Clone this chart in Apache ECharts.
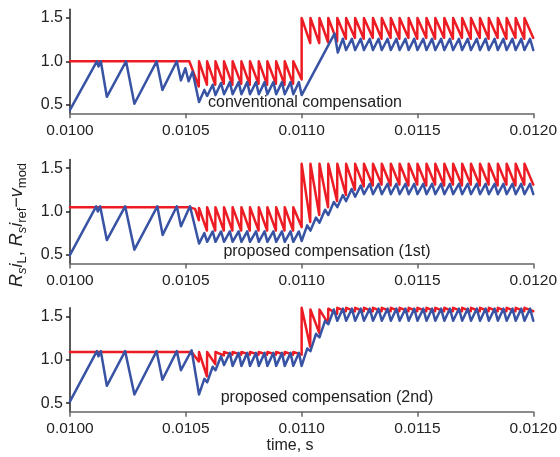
<!DOCTYPE html>
<html><head><meta charset="utf-8">
<script src="https://cdn.jsdelivr.net/npm/echarts@6/dist/echarts.min.js"></script>
<style>html,body{margin:0;padding:0;background:#fff}#c{width:560px;height:457px}</style>
</head><body><div id="c"></div>
<script>
// ---------- data (time in s, value) ----------
const xTicks = [0.0100, 0.0105, 0.0110, 0.0115, 0.0120];
const yTicks = [0.5, 1.0, 1.5];
const panelLabels = ['conventional compensation', 'proposed compensation (1st)', 'proposed compensation (2nd)'];
const xName = 'time, s';

const topRed = [
[0.010000,1.00],[0.010515,1.00],
[0.010556,0.71],[0.010557,1.00],[0.010591,0.73],[0.010592,1.00],[0.010627,0.73],[0.010628,1.00],
[0.010664,0.74],[0.010665,1.00],[0.010701,0.73],[0.010702,1.00],[0.010739,0.74],[0.010740,1.00],
[0.010776,0.73],[0.010777,1.00],[0.010814,0.74],[0.010815,1.00],[0.010851,0.73],[0.010852,1.00],
[0.010889,0.74],[0.010890,1.00],[0.010926,0.73],[0.010927,1.00],[0.010963,0.74],[0.010964,1.00],
[0.011000,0.79],[0.011000,1.50],
[0.011037,1.21],[0.011038,1.50],[0.011076,1.21],[0.011077,1.50],[0.011114,1.22],[0.011115,1.50],
[0.011153,1.23],[0.011154,1.50],[0.011191,1.26],[0.011192,1.50],[0.011230,1.27],[0.011231,1.50],
[0.011268,1.26],[0.011269,1.50],[0.011307,1.27],[0.011308,1.50],[0.011345,1.26],[0.011346,1.50],
[0.011384,1.27],[0.011385,1.50],[0.011422,1.26],[0.011423,1.50],[0.011461,1.27],[0.011462,1.50],
[0.011499,1.26],[0.011500,1.50],[0.011538,1.27],[0.011539,1.50],[0.011576,1.26],[0.011577,1.50],
[0.011615,1.27],[0.011616,1.50],[0.011653,1.26],[0.011654,1.50],[0.011692,1.27],[0.011693,1.50],
[0.011730,1.26],[0.011731,1.50],[0.011769,1.27],[0.011770,1.50],[0.011807,1.26],[0.011808,1.50],
[0.011846,1.27],[0.011847,1.50],[0.011884,1.26],[0.011885,1.50],[0.011923,1.27],[0.011924,1.50],
[0.011961,1.26],[0.011962,1.50],[0.012000,1.27]
];
const topBlue = [
[0.010000,0.44],[0.010116,1.00],[0.010123,0.94],[0.010133,1.00],[0.010159,0.59],[0.010242,1.00],
[0.010278,0.51],[0.010374,1.00],[0.010399,0.67],[0.010461,1.00],[0.010479,0.78],[0.010498,0.92],
[0.010512,0.77],[0.010529,0.88],[0.010557,0.53],
[0.010580,0.67],[0.010592,0.60],[0.010616,0.73],[0.010628,0.61],[0.010652,0.75],[0.010665,0.62],
[0.010690,0.76],[0.010702,0.62],[0.010728,0.76],[0.010740,0.62],[0.010765,0.76],[0.010777,0.62],
[0.010803,0.76],[0.010815,0.62],[0.010840,0.76],[0.010852,0.62],[0.010878,0.76],[0.010890,0.62],
[0.010915,0.76],[0.010927,0.62],[0.010952,0.76],[0.010964,0.62],[0.010988,0.76],[0.011000,0.61],
[0.011142,1.32],[0.011156,1.10],
[0.011178,1.26],[0.011192,1.13],[0.011217,1.26],[0.011231,1.13],[0.011255,1.26],[0.011269,1.13],
[0.011294,1.26],[0.011308,1.13],[0.011332,1.26],[0.011346,1.13],[0.011371,1.26],[0.011385,1.13],
[0.011409,1.26],[0.011423,1.13],[0.011448,1.26],[0.011462,1.13],[0.011486,1.26],[0.011500,1.13],
[0.011525,1.26],[0.011539,1.13],[0.011563,1.26],[0.011577,1.13],[0.011602,1.26],[0.011616,1.13],
[0.011640,1.26],[0.011654,1.13],[0.011679,1.26],[0.011693,1.13],[0.011717,1.26],[0.011731,1.13],
[0.011756,1.26],[0.011770,1.13],[0.011794,1.26],[0.011808,1.13],[0.011833,1.26],[0.011847,1.13],
[0.011871,1.26],[0.011885,1.13],[0.011910,1.26],[0.011924,1.13],[0.011948,1.26],[0.011962,1.13],
[0.011986,1.26],[0.012000,1.13]
];
const midRed = [
[0.010000,1.05],[0.010512,1.05],[0.010540,1.03],[0.010556,0.90],[0.010557,1.04],
[0.010591,0.78],[0.010592,1.05],[0.010627,0.78],[0.010628,1.05],[0.010664,0.78],[0.010665,1.05],
[0.010701,0.78],[0.010702,1.05],[0.010739,0.78],[0.010740,1.05],[0.010776,0.78],[0.010777,1.05],
[0.010814,0.78],[0.010815,1.05],[0.010851,0.78],[0.010852,1.05],[0.010889,0.78],[0.010890,1.05],
[0.010926,0.78],[0.010927,1.05],[0.010963,0.78],[0.010964,1.05],
[0.011000,0.82],[0.011000,1.55],
[0.011037,0.88],[0.011038,1.55],[0.011076,0.96],[0.011077,1.55],[0.011114,1.05],[0.011115,1.55],
[0.011153,1.12],[0.011154,1.55],[0.011191,1.19],[0.011192,1.55],[0.011230,1.25],[0.011231,1.55],
[0.011268,1.29],[0.011269,1.55],[0.011307,1.30],[0.011308,1.55],[0.011345,1.31],[0.011346,1.55],
[0.011384,1.30],[0.011385,1.55],[0.011422,1.31],[0.011423,1.55],[0.011461,1.30],[0.011462,1.55],
[0.011499,1.31],[0.011500,1.55],[0.011538,1.30],[0.011539,1.55],[0.011576,1.31],[0.011577,1.55],
[0.011615,1.30],[0.011616,1.55],[0.011653,1.31],[0.011654,1.55],[0.011692,1.30],[0.011693,1.55],
[0.011730,1.31],[0.011731,1.55],[0.011769,1.30],[0.011770,1.55],[0.011807,1.31],[0.011808,1.55],
[0.011846,1.30],[0.011847,1.55],[0.011884,1.31],[0.011885,1.55],[0.011923,1.30],[0.011924,1.55],
[0.011961,1.31],[0.011962,1.55],[0.012000,1.31]
];
const midBlue = [
[0.010000,0.50],[0.010113,1.06],[0.010120,1.00],[0.010130,1.06],[0.010159,0.67],[0.010238,1.06],
[0.010278,0.56],[0.010377,1.06],[0.010400,0.73],[0.010461,1.06],[0.010479,0.83],[0.010518,1.06],
[0.010557,0.63],
[0.010580,0.75],[0.010592,0.65],[0.010616,0.77],[0.010628,0.65],[0.010652,0.77],[0.010665,0.65],
[0.010690,0.77],[0.010702,0.65],[0.010728,0.77],[0.010740,0.65],[0.010765,0.77],[0.010777,0.65],
[0.010803,0.77],[0.010815,0.65],[0.010840,0.77],[0.010852,0.65],[0.010878,0.77],[0.010890,0.65],
[0.010915,0.77],[0.010927,0.65],[0.010952,0.77],[0.010964,0.65],[0.010988,0.77],[0.011000,0.66],
[0.011024,0.84],[0.011038,0.78],[0.011062,0.93],[0.011077,0.87],[0.011101,1.02],[0.011115,0.96],
[0.011139,1.11],[0.011154,1.05],[0.011178,1.19],[0.011192,1.12],[0.011216,1.26],[0.011231,1.17],
[0.011255,1.30],[0.011269,1.20],[0.011294,1.32],[0.011308,1.20],[0.011332,1.32],[0.011346,1.20],
[0.011371,1.32],[0.011385,1.20],[0.011409,1.32],[0.011423,1.20],[0.011448,1.32],[0.011462,1.20],
[0.011486,1.32],[0.011500,1.20],[0.011525,1.32],[0.011539,1.20],[0.011563,1.32],[0.011577,1.20],
[0.011602,1.32],[0.011616,1.20],[0.011640,1.32],[0.011654,1.20],[0.011679,1.32],[0.011693,1.20],
[0.011717,1.32],[0.011731,1.20],[0.011756,1.32],[0.011770,1.20],[0.011794,1.32],[0.011808,1.20],
[0.011833,1.32],[0.011847,1.20],[0.011871,1.32],[0.011885,1.20],[0.011910,1.32],[0.011924,1.20],
[0.011948,1.32],[0.011962,1.20],[0.011986,1.32],[0.012000,1.20]
];
const botRed = [
[0.010000,1.09],[0.010525,1.09],[0.010556,0.98],[0.010557,1.09],[0.010591,0.81],[0.010592,1.09],
[0.010627,0.95],[0.010628,1.09],[0.010664,1.05],[0.010665,1.09],[0.010701,1.06],[0.010702,1.09],
[0.010739,1.06],[0.010740,1.09],[0.010776,1.06],[0.010777,1.09],[0.010814,1.06],[0.010815,1.09],
[0.010851,1.06],[0.010852,1.09],[0.010889,1.06],[0.010890,1.09],[0.010926,1.06],[0.010927,1.09],
[0.010963,1.06],[0.010964,1.09],
[0.011000,1.06],[0.011000,1.60],
[0.011037,1.15],[0.011038,1.58],[0.011076,1.31],[0.011077,1.58],[0.011114,1.42],[0.011115,1.59],
[0.011153,1.53],[0.011154,1.60],[0.011191,1.56],[0.011192,1.60],[0.011230,1.56],[0.011231,1.60],
[0.011268,1.56],[0.011269,1.60],[0.011307,1.56],[0.011308,1.60],[0.011345,1.56],[0.011346,1.60],
[0.011384,1.56],[0.011385,1.60],[0.011422,1.56],[0.011423,1.60],[0.011461,1.56],[0.011462,1.60],
[0.011499,1.56],[0.011500,1.60],[0.011538,1.56],[0.011539,1.60],[0.011576,1.56],[0.011577,1.60],
[0.011615,1.56],[0.011616,1.60],[0.011653,1.56],[0.011654,1.60],[0.011692,1.56],[0.011693,1.60],
[0.011730,1.56],[0.011731,1.60],[0.011769,1.56],[0.011770,1.60],[0.011807,1.56],[0.011808,1.60],
[0.011846,1.56],[0.011847,1.60],[0.011884,1.56],[0.011885,1.60],[0.011923,1.56],[0.011924,1.60],
[0.011961,1.56],[0.011962,1.60],[0.012000,1.56]
];
const botBlue = [
[0.010000,0.52],[0.010116,1.10],[0.010123,1.04],[0.010133,1.10],[0.010159,0.70],[0.010238,1.10],
[0.010278,0.60],[0.010374,1.10],[0.010399,0.77],[0.010461,1.10],[0.010479,0.88],[0.010525,1.11],
[0.010557,0.60],[0.010580,0.78],[0.010592,0.74],[0.010616,0.92],[0.010628,0.88],[0.010652,1.04],
[0.010665,0.94],[0.010690,1.08],[0.010702,0.93],[0.010728,1.08],[0.010740,0.93],[0.010765,1.08],
[0.010777,0.93],[0.010803,1.08],[0.010815,0.93],[0.010840,1.08],[0.010852,0.93],[0.010878,1.08],
[0.010890,0.93],[0.010915,1.08],[0.010927,0.93],[0.010952,1.08],[0.010964,0.93],[0.010988,1.08],
[0.011000,0.93],
[0.011024,1.13],[0.011038,1.10],[0.011062,1.30],[0.011077,1.26],[0.011101,1.45],[0.011115,1.41],
[0.011139,1.58],[0.011154,1.45],[0.011178,1.59],[0.011192,1.45],[0.011217,1.59],[0.011231,1.45],
[0.011255,1.59],[0.011269,1.45],[0.011294,1.59],[0.011308,1.45],[0.011332,1.59],[0.011346,1.45],
[0.011371,1.59],[0.011385,1.45],[0.011409,1.59],[0.011423,1.45],[0.011448,1.59],[0.011462,1.45],
[0.011486,1.59],[0.011500,1.45],[0.011525,1.59],[0.011539,1.45],[0.011563,1.59],[0.011577,1.45],
[0.011602,1.59],[0.011616,1.45],[0.011640,1.59],[0.011654,1.45],[0.011679,1.59],[0.011693,1.45],
[0.011717,1.59],[0.011731,1.45],[0.011756,1.59],[0.011770,1.45],[0.011794,1.59],[0.011808,1.45],
[0.011833,1.59],[0.011847,1.45],[0.011871,1.59],[0.011885,1.45],[0.011910,1.59],[0.011924,1.45],
[0.011948,1.59],[0.011962,1.45],[0.011986,1.59],[0.012000,1.45]
];

// ---------- chart ----------
const FONT = 'Liberation Sans, Arial, Helvetica, sans-serif';
const RED = '#ed1c24', BLUE = '#3853a4';
const gridTops = [9.3, 159.5, 307.8];
const chart = echarts.init(document.getElementById('c'), null, {renderer: 'canvas'});

const grids = gridTops.map(t => ({left: 70, top: t, width: 464.6, height: 104}));
const xAxes = gridTops.map((t, i) => ({
  type: 'value', gridIndex: i, min: 0.0100, max: 0.0120,
  axisLine: {show: true, lineStyle: {color: '#666', width: 1.5}},
  axisTick: {show: true, length: 5, customValues: xTicks, lineStyle: {color: '#666', width: 1.5}},
  axisLabel: {customValues: xTicks, formatter: v => v.toFixed(4), fontSize: 15.5, fontFamily: FONT, color: '#222', margin: 9,
              showMinLabel: true, showMaxLabel: true, hideOverlap: false},
  splitLine: {show: false}
}));
const yAxes = gridTops.map((t, i) => ({
  type: 'value', gridIndex: i, min: 0.4, max: 1.6,
  axisLine: {show: true, lineStyle: {color: '#222', width: 1.5}},
  axisTick: {show: true, length: 4, customValues: yTicks, lineStyle: {color: '#222', width: 1.5}},
  axisLabel: {customValues: yTicks, formatter: v => v.toFixed(1), fontSize: 16, fontFamily: FONT, color: '#222', margin: 7},
  splitLine: {show: false}
}));
const mk = (data, color, i) => ({
  type: 'line', data, xAxisIndex: i, yAxisIndex: i, showSymbol: false, clip: false,
  lineStyle: {color, width: 2.5, join: 'round', cap: 'round'}, z: color === BLUE ? 3 : 2, animation: false
});
const series = [
  mk(topRed, RED, 0), mk(topBlue, BLUE, 0),
  mk(midRed, RED, 1), mk(midBlue, BLUE, 1),
  mk(botRed, RED, 2), mk(botBlue, BLUE, 2)
];
const labelPos = [[305, 103], [327, 252], [327, 398]];
const graphics = panelLabels.map((txt, i) => ({
  type: 'text', x: labelPos[i][0], y: labelPos[i][1], z: 10,
  style: {text: txt, font: '16px ' + FONT, fill: '#222', align: 'center', verticalAlign: 'middle'}
}));
graphics.push({
  type: 'text', x: 290, y: 446, z: 10,
  style: {text: xName, font: '16px ' + FONT, fill: '#222', align: 'center', verticalAlign: 'middle'}
});
const M = {fontSize: 18, fontFamily: FONT, lineHeight: 23, verticalAlign: 'middle', fill: '#222', color: '#222'};
graphics.push({
  type: 'text', x: 17, y: 225, rotation: Math.PI / 2, z: 10,
  style: {
    text: '{i|R}{si|s}{i|i}{s|L}{n|, }{i|R}{si|s}{i|i}{s|ref}{n|\u2212}{i|v}{s|mod}',
    align: 'center', verticalAlign: 'middle', fill: '#222',
    rich: {
      i: Object.assign({}, M, {fontStyle: 'italic'}),
      n: Object.assign({}, M),
      si: {fontSize: 13, fontFamily: FONT, fontStyle: 'italic', lineHeight: 13, verticalAlign: 'bottom', fill: '#222', color: '#222'},
      s: {fontSize: 13, fontFamily: FONT, lineHeight: 13, verticalAlign: 'bottom', fill: '#222', color: '#222'}
    }
  }
});

chart.setOption({
  animation: false,
  backgroundColor: '#fff',
  grid: grids, xAxis: xAxes, yAxis: yAxes, series, graphic: graphics
});
</script></body></html>
